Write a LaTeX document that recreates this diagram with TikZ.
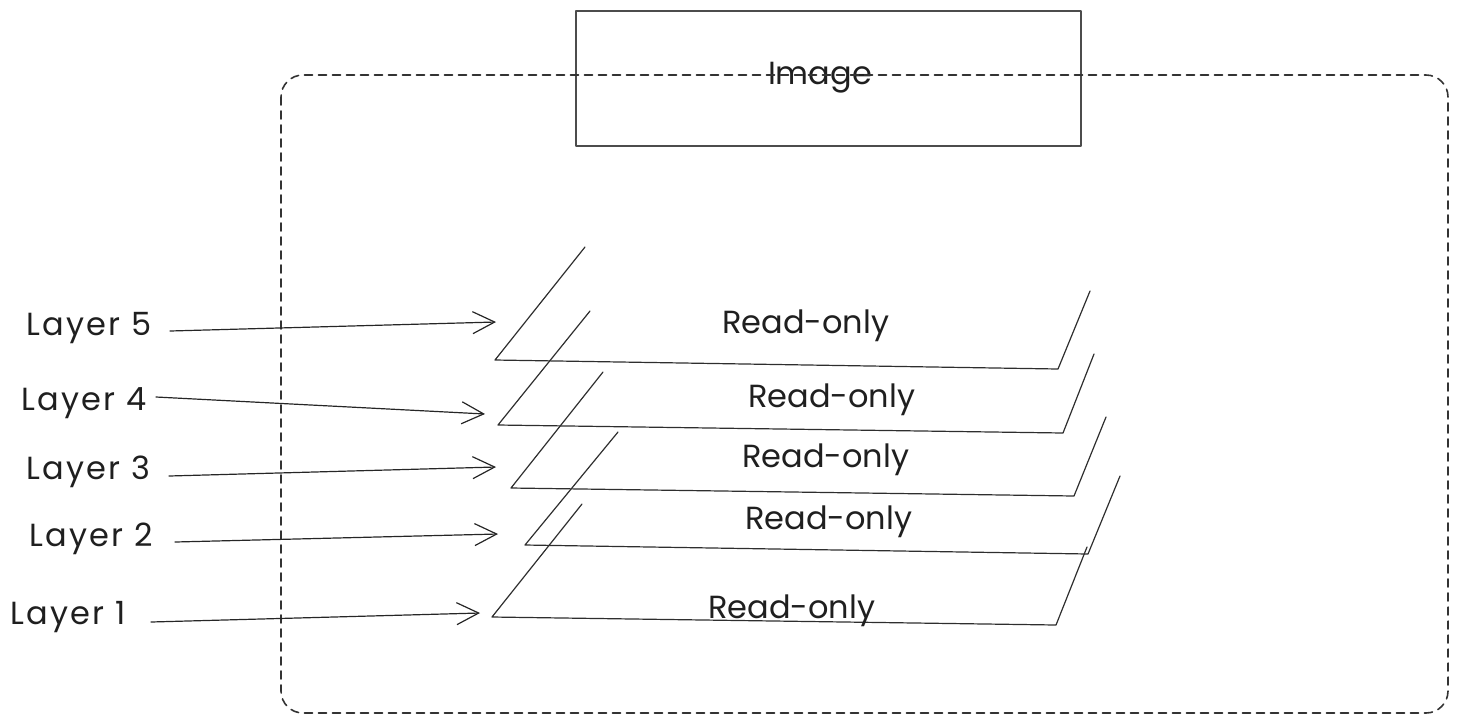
\documentclass[tikz,border=0pt]{standalone}
\usepackage{fontspec}
\setmainfont{Poppins}
\newfontfamily\layerfont[LetterSpace=7]{Poppins}
\usetikzlibrary{arrows.meta}
\begin{document}
\begin{tikzpicture}[x=1pt,y=-1pt,line join=round,line cap=round,
  lbl/.style={font=\fontsize{32}{36}\selectfont,text=black!88,inner sep=0pt},
  lyr/.style={font=\layerfont\fontsize{32}{36}\selectfont,text=black!88,inner sep=0pt},
  plane/.style={draw=black!82,line width=1.2pt},
  ptr/.style={draw=black!85,line width=1.2pt,-{Straight Barb[length=22pt,width=22pt,line width=1.2pt]}},
  frame/.style={draw=black!80,line width=1.6pt,dash pattern=on 8pt off 6pt,rounded corners=22pt}]
\useasboundingbox (0,0) rectangle (1458,724);
% image box
\node[draw=black!70,line width=1.6pt,minimum width=505pt,minimum height=135pt,inner sep=0pt,anchor=north west] (img) at (575,10) {};
\node[lbl,anchor=base] (imgtxt) at (820,84) {Image};
% dashed container
\draw[frame] (281,75) rectangle (1448,713);
% planes (left slant, bottom, right slant)
\foreach \n/\ax/\ay/\bx/\by/\cx/\cy/\dx/\dy in {
  5/585/247/495/360/1058/369/1090/291,
  4/590/311/498/425/1063/433/1094/354,
  3/603/372/511/488/1074/496/1106/417,
  2/618/432/525/545/1088/554/1120/476,
  1/582/504/492/617/1056/625/1087/547}{
  \coordinate (p\n a) at (\ax,\ay);
  \coordinate (p\n b) at (\bx,\by);
  \coordinate (p\n c) at (\cx,\cy);
  \coordinate (p\n d) at (\dx,\dy);
  \draw[plane] (p\n a) -- (p\n b) -- (p\n c) -- (p\n d);
}
% read-only labels
\node[lbl,anchor=base west] (r5) at (722,333) {Read-only};
\node[lbl,anchor=base west] (r4) at (748,407) {Read-only};
\node[lbl,anchor=base west] (r3) at (742,467) {Read-only};
\node[lbl,anchor=base west] (r2) at (745,529) {Read-only};
\node[lbl,anchor=base west] (r1) at (708,618) {Read-only};
% layer labels
\node[lyr,anchor=base west] (l5) at (26,335) {Layer 5};
\node[lyr,anchor=base west] (l4) at (21,410) {Layer 4};
\node[lyr,anchor=base west] (l3) at (26,479) {Layer 3};
\node[lyr,anchor=base west] (l2) at (29,546) {Layer 2};
\node[lyr,anchor=base west] (l1) at (10,624) {Layer 1};
% arrow ends
\coordinate (s5) at (170,331); \coordinate (t5) at (496,322);
\coordinate (s4) at (156,397); \coordinate (t4) at (485,414);
\coordinate (s3) at (169,476); \coordinate (t3) at (496,467);
\coordinate (s2) at (175,542); \coordinate (t2) at (498,534);
\coordinate (s1) at (151,622); \coordinate (t1) at (480,613);
\foreach \n in {1,...,5}{\draw[ptr] (s\n) -- (t\n);}
\end{tikzpicture}
\end{document}
